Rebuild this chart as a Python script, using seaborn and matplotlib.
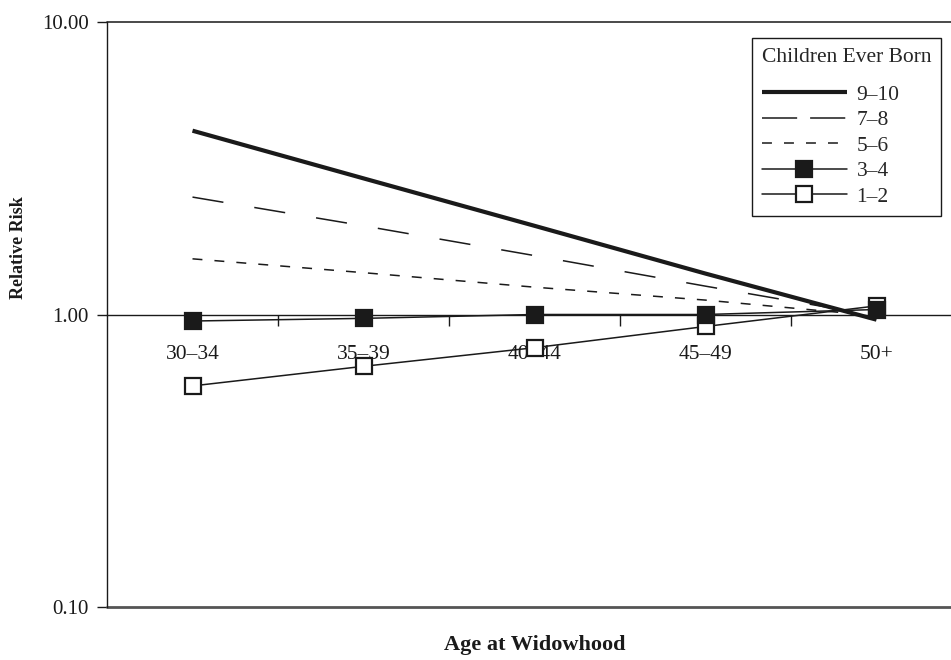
import matplotlib
matplotlib.use("Agg")
import matplotlib.pyplot as plt
import seaborn as sns
from matplotlib.lines import Line2D
from matplotlib.ticker import FixedLocator, FixedFormatter

# Age at widowhood categories
age_groups = ["30–34", "35–39", "40–44", "45–49", "50+"]

# Relative risk by number of children ever born
rr_9_10 = [4.25, 2.92, 2.01, 1.38, 0.96]
rr_7_8 = [2.52, 2.01, 1.59, 1.25, 0.99]
rr_5_6 = [1.55, 1.39, 1.24, 1.12, 0.99]
rr_3_4 = [0.95, 0.97, 1.00, 1.00, 1.04]
rr_1_2 = [0.57, 0.665, 0.77, 0.91, 1.07]

y_ticks = [0.1, 1.0, 10.0]
y_tick_labels = ["0.10", "1.00", "10.00"]

sns.set_theme(style="white")
plt.rcParams["font.family"] = ["Liberation Serif", "DejaVu Serif"]

INK = "#1a1a1a"

fig = plt.figure(figsize=(9.51, 6.60), dpi=100)
ax = fig.add_axes([107 / 951, 53 / 660, 855 / 951, 585 / 660])

pos = list(range(len(age_groups)))

open_sq = dict(marker="s", ms=11, mfc="white", mec=INK, mew=1.6)
full_sq = dict(marker="s", ms=11, mfc=INK, mec=INK, mew=1.6)

series = [
    ("1–2", rr_1_2, dict(lw=1.1, linestyle="-", zorder=3, **open_sq)),
    ("3–4", rr_3_4, dict(lw=1.1, linestyle="-", zorder=3.1, **full_sq)),
    ("5–6", rr_5_6, dict(lw=1.1, linestyle=(0, (6.5, 7.9)), zorder=2.6)),
    ("7–8", rr_7_8, dict(lw=1.1, linestyle=(0, (20.5, 20.5)), zorder=2.7)),
    ("9–10", rr_9_10, dict(lw=3.0, linestyle="-", zorder=2.8)),
]

for name, vals, kw in series:
    sns.lineplot(x=pos, y=vals, ax=ax, color=INK, legend=False,
                 solid_capstyle="butt", **kw)

ax.set_yscale("log")
ax.set_ylim(0.1, 10)
ax.set_xlim(-0.5, 4.5)

# y axis: three decades
ax.yaxis.set_major_locator(FixedLocator(y_ticks))
ax.yaxis.set_major_formatter(FixedFormatter(y_tick_labels))
ax.yaxis.set_minor_locator(FixedLocator([]))
ax.tick_params(axis="y", which="major", left=True, length=7, width=1,
               color=INK, pad=6, labelsize=15, labelcolor=INK)

# category axis crossing at relative risk 1.00
ax.spines["bottom"].set_position(("data", 1.0))
ax.spines["bottom"].set_color(INK)
ax.spines["bottom"].set_linewidth(1.0)
ax.spines["left"].set_color(INK)
ax.spines["left"].set_linewidth(1.0)
ax.spines["top"].set_visible(False)
ax.spines["right"].set_visible(False)

ax.xaxis.set_major_locator(FixedLocator(pos))
ax.xaxis.set_major_formatter(FixedFormatter(age_groups))
ax.xaxis.set_minor_locator(FixedLocator([p + 0.5 for p in pos[:-1]]))
ax.tick_params(axis="x", which="major", bottom=True, length=0, pad=22,
               labelsize=15.5, labelcolor=INK)
ax.tick_params(axis="x", which="minor", bottom=True, direction="out",
               length=8, width=1, color=INK)
for lbl in ax.get_xticklabels():
    lbl.set_zorder(5)

# frame lines at 10.00 and 0.10
ax.axhline(10, color="#2a2a2a", lw=1.2, clip_on=False, zorder=1)
ax.axhline(0.1, color="#555555", lw=2.0, clip_on=False, zorder=1)

ax.set_ylabel("Relative Risk", fontsize=13, fontweight="bold", color=INK)
ax.yaxis.label.set_va("center")
ax.yaxis.set_label_coords(-0.103, 0.615)
ax.set_xlabel("Age at Widowhood", fontsize=16, fontweight="bold", color=INK)
ax.xaxis.set_label_coords(0.5, -0.065)
ax.xaxis.label.set_va("center")

# legend keys
keys = [
    Line2D([], [], color=INK, lw=3.0, solid_capstyle="butt"),
    Line2D([], [], color=INK, lw=1.1, linestyle=(0, (23, 8.5))),
    Line2D([], [], color=INK, lw=1.1, linestyle=(0, (6.5, 7.9))),
    Line2D([], [], color=INK, lw=1.1, **full_sq),
    Line2D([], [], color=INK, lw=1.1, **open_sq),
]
order = ["9–10", "7–8", "5–6", "3–4", "1–2"]
leg = ax.legend(keys, order,
                title="Children Ever Born", loc="upper right",
                bbox_to_anchor=(941 / 951, 1 - 38 / 660),
                bbox_transform=fig.transFigure, borderaxespad=0,
                fontsize=15.5, title_fontsize=15.5, frameon=True,
                fancybox=False, framealpha=1, edgecolor=INK,
                handlelength=3.95, handletextpad=0.45, labelspacing=0.25,
                borderpad=0.45, alignment="left")
leg._legend_box.sep = 13
leg.get_frame().set_linewidth(1.0)
leg.set_zorder(10)

fig.savefig("out.png", dpi=100)
